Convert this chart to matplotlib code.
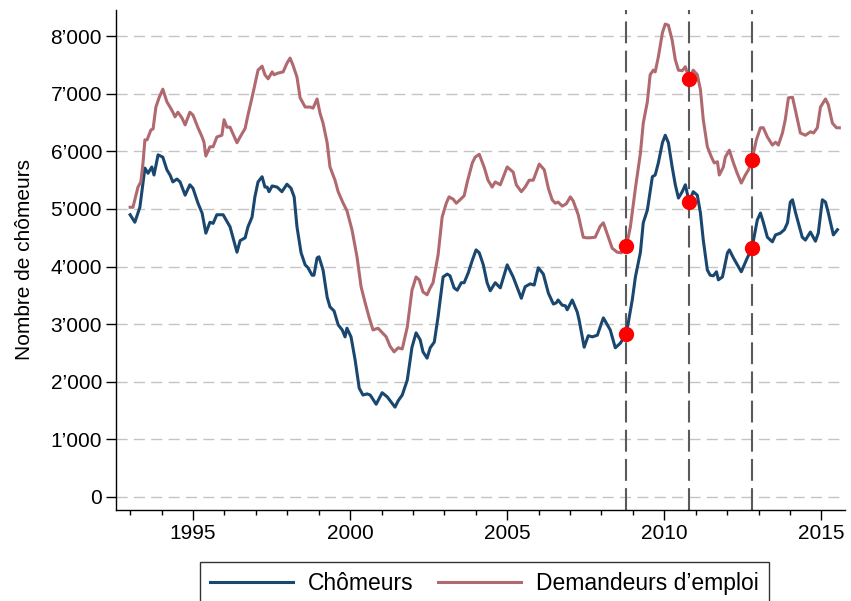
import matplotlib
matplotlib.use("Agg")
import matplotlib.pyplot as plt
from matplotlib.ticker import FuncFormatter, MultipleLocator

plt.rcParams['font.family'] = ['Liberation Sans', 'DejaVu Sans']

# Chômeurs (monthly-ish readings, decimal years, thousands)
chom_t = [1993.00, 1993.15, 1993.31, 1993.47, 1993.57, 1993.69, 1993.76, 1993.89, 1994.04, 1994.17,
          1994.27, 1994.36, 1994.49, 1994.59, 1994.75, 1994.90, 1995.00, 1995.16, 1995.29, 1995.41,
          1995.54, 1995.64, 1995.76, 1995.96, 1996.18, 1996.27, 1996.40, 1996.50, 1996.66, 1996.75,
          1996.88, 1996.97, 1997.07, 1997.20, 1997.29, 1997.36, 1997.42, 1997.52, 1997.68, 1997.83,
          1997.99, 1998.12, 1998.22, 1998.31, 1998.44, 1998.57, 1998.66, 1998.79, 1998.85, 1998.95,
          1999.01, 1999.14, 1999.27, 1999.36, 1999.49, 1999.62, 1999.75, 1999.84, 1999.90, 2000.03,
          2000.16, 2000.29, 2000.41, 2000.54, 2000.64, 2000.83, 2001.02, 2001.18, 2001.43, 2001.53,
          2001.66, 2001.82, 2001.97, 2002.10, 2002.23, 2002.32, 2002.45, 2002.55, 2002.68, 2002.80,
          2002.96, 2003.09, 2003.18, 2003.31, 2003.41, 2003.54, 2003.63, 2003.76, 2003.89, 2004.01,
          2004.11, 2004.24, 2004.36, 2004.46, 2004.62, 2004.78, 2005.00, 2005.19, 2005.45, 2005.57,
          2005.73, 2005.86, 2005.99, 2006.15, 2006.31, 2006.47, 2006.56, 2006.62, 2006.75, 2006.85,
          2006.91, 2007.07, 2007.23, 2007.29, 2007.45, 2007.58, 2007.71, 2007.87, 2008.06, 2008.28,
          2008.44, 2008.60, 2008.79, 2008.98, 2009.08, 2009.24, 2009.33, 2009.46, 2009.62, 2009.71,
          2009.81, 2009.94, 2010.03, 2010.13, 2010.25, 2010.35, 2010.45, 2010.57, 2010.67, 2010.79,
          2010.92, 2011.05, 2011.15, 2011.24, 2011.37, 2011.46, 2011.56, 2011.66, 2011.72, 2011.85,
          2012.01, 2012.07, 2012.20, 2012.45, 2012.64, 2012.79, 2012.96, 2013.06, 2013.15, 2013.28,
          2013.44, 2013.54, 2013.69, 2013.82, 2013.92, 2014.01, 2014.08, 2014.17, 2014.39, 2014.49,
          2014.65, 2014.81, 2014.90, 2015.03, 2015.13, 2015.22, 2015.38, 2015.51]
chom_v = [4.90, 4.77, 5.03, 5.71, 5.62, 5.73, 5.59, 5.94, 5.90, 5.68,
          5.59, 5.47, 5.52, 5.47, 5.24, 5.42, 5.36, 5.10, 4.93, 4.58,
          4.77, 4.75, 4.90, 4.90, 4.69, 4.51, 4.25, 4.45, 4.50, 4.69,
          4.86, 5.21, 5.47, 5.56, 5.38, 5.38, 5.30, 5.40, 5.38, 5.30,
          5.43, 5.36, 5.21, 4.69, 4.24, 4.03, 3.98, 3.85, 3.85, 4.15,
          4.17, 3.94, 3.47, 3.30, 3.23, 2.99, 2.90, 2.78, 2.93, 2.78,
          2.38, 1.89, 1.77, 1.79, 1.77, 1.61, 1.81, 1.74, 1.56, 1.67,
          1.77, 2.03, 2.60, 2.85, 2.73, 2.52, 2.41, 2.59, 2.69, 3.13,
          3.82, 3.87, 3.84, 3.63, 3.59, 3.72, 3.72, 3.89, 4.11, 4.29,
          4.24, 4.03, 3.72, 3.58, 3.72, 3.63, 4.03, 3.82, 3.45, 3.65,
          3.70, 3.68, 3.98, 3.87, 3.54, 3.35, 3.37, 3.42, 3.33, 3.32,
          3.25, 3.42, 3.21, 3.07, 2.60, 2.80, 2.78, 2.81, 3.11, 2.90,
          2.59, 2.67, 2.83, 3.42, 3.82, 4.25, 4.76, 4.98, 5.56, 5.59,
          5.80, 6.15, 6.28, 6.15, 5.73, 5.42, 5.19, 5.30, 5.42, 5.12,
          5.30, 5.24, 4.93, 4.46, 3.94, 3.85, 3.84, 3.91, 3.77, 3.82,
          4.24, 4.29, 4.15, 3.91, 4.15, 4.32, 4.81, 4.93, 4.77, 4.51,
          4.43, 4.55, 4.58, 4.64, 4.76, 5.12, 5.16, 4.95, 4.51, 4.46,
          4.60, 4.44, 4.58, 5.16, 5.12, 4.93, 4.55, 4.64]

# Demandeurs d'emploi
dem_t = [1993.00, 1993.09, 1993.15, 1993.25, 1993.34, 1993.41, 1993.47, 1993.54, 1993.66, 1993.73,
         1993.82, 1993.92, 1994.04, 1994.17, 1994.27, 1994.36, 1994.43, 1994.52, 1994.65, 1994.75,
         1994.90, 1995.00, 1995.16, 1995.29, 1995.35, 1995.41, 1995.54, 1995.64, 1995.76, 1995.92,
         1995.99, 1996.08, 1996.18, 1996.40, 1996.50, 1996.66, 1996.75, 1996.91, 1997.07, 1997.20,
         1997.29, 1997.39, 1997.52, 1997.58, 1997.71, 1997.87, 1997.99, 1998.09, 1998.18, 1998.31,
         1998.41, 1998.57, 1998.73, 1998.82, 1998.95, 1999.04, 1999.14, 1999.27, 1999.36, 1999.52,
         1999.62, 1999.78, 1999.90, 2000.06, 2000.22, 2000.35, 2000.48, 2000.61, 2000.73, 2000.89,
         2001.15, 2001.27, 2001.40, 2001.53, 2001.66, 2001.82, 2001.97, 2002.10, 2002.20, 2002.32,
         2002.45, 2002.55, 2002.64, 2002.80, 2002.93, 2003.06, 2003.15, 2003.28, 2003.38, 2003.50,
         2003.63, 2003.73, 2003.89, 2003.98, 2004.11, 2004.27, 2004.39, 2004.52, 2004.62, 2004.78,
         2005.00, 2005.19, 2005.29, 2005.45, 2005.57, 2005.70, 2005.83, 2006.02, 2006.18, 2006.31,
         2006.43, 2006.53, 2006.62, 2006.75, 2006.88, 2007.01, 2007.10, 2007.26, 2007.42, 2007.52,
         2007.64, 2007.80, 2007.96, 2008.06, 2008.22, 2008.34, 2008.50, 2008.63, 2008.79, 2008.92,
         2009.08, 2009.24, 2009.33, 2009.46, 2009.55, 2009.65, 2009.71, 2009.81, 2009.94, 2010.03,
         2010.13, 2010.25, 2010.35, 2010.45, 2010.57, 2010.67, 2010.79, 2010.92, 2011.05, 2011.15,
         2011.24, 2011.37, 2011.50, 2011.59, 2011.69, 2011.75, 2011.88, 2011.94, 2012.07, 2012.20,
         2012.32, 2012.45, 2012.58, 2012.68, 2012.79, 2012.93, 2013.06, 2013.15, 2013.28, 2013.44,
         2013.54, 2013.63, 2013.76, 2013.85, 2013.95, 2014.08, 2014.17, 2014.33, 2014.49, 2014.65,
         2014.75, 2014.87, 2014.97, 2015.13, 2015.22, 2015.35, 2015.48, 2015.57]
dem_v = [5.03, 5.03, 5.16, 5.38, 5.47, 5.80, 6.20, 6.20, 6.37, 6.39,
         6.77, 6.93, 7.08, 6.86, 6.77, 6.68, 6.60, 6.68, 6.58, 6.46,
         6.68, 6.63, 6.41, 6.25, 6.16, 5.92, 6.08, 6.08, 6.25, 6.28,
         6.55, 6.42, 6.42, 6.15, 6.25, 6.40, 6.63, 7.01, 7.41, 7.48,
         7.33, 7.26, 7.38, 7.33, 7.36, 7.38, 7.53, 7.62, 7.50, 7.29,
         6.93, 6.77, 6.77, 6.75, 6.91, 6.67, 6.49, 6.15, 5.73, 5.50,
         5.30, 5.10, 4.97, 4.64, 4.17, 3.65, 3.37, 3.11, 2.90, 2.93,
         2.78, 2.62, 2.52, 2.59, 2.57, 2.95, 3.59, 3.82, 3.77, 3.56,
         3.51, 3.63, 3.72, 4.20, 4.86, 5.10, 5.21, 5.17, 5.10, 5.16,
         5.23, 5.47, 5.80, 5.90, 5.95, 5.72, 5.50, 5.38, 5.47, 5.42,
         5.73, 5.64, 5.42, 5.30, 5.38, 5.50, 5.50, 5.78, 5.68, 5.36,
         5.16, 5.10, 5.12, 5.05, 5.09, 5.21, 5.14, 4.90, 4.51, 4.50,
         4.50, 4.51, 4.70, 4.76, 4.51, 4.32, 4.25, 4.24, 4.34, 4.69,
         5.36, 5.97, 6.49, 6.86, 7.33, 7.41, 7.38, 7.64, 8.06, 8.21,
         8.19, 7.93, 7.59, 7.41, 7.40, 7.47, 7.26, 7.41, 7.33, 7.07,
         6.55, 6.08, 5.90, 5.80, 5.82, 5.59, 5.73, 5.90, 6.02, 5.80,
         5.62, 5.45, 5.59, 5.68, 5.85, 6.20, 6.41, 6.41, 6.25, 6.11,
         6.16, 6.11, 6.32, 6.55, 6.93, 6.94, 6.72, 6.32, 6.28, 6.34,
         6.32, 6.41, 6.77, 6.91, 6.81, 6.49, 6.41, 6.41]

# marked dates and values on each series
event_t = [2008.79, 2010.79, 2012.79]
event_chom = [2.83, 5.12, 4.32]
event_dem = [4.36, 7.26, 5.85]

navy = "#1a476f"
maroon = "#b0696f"

fig = plt.figure(figsize=(8.51, 6.01), dpi=100)
ax = fig.add_axes([0.1363, 0.1514, 0.857, 0.832])

ax.plot(chom_t, [v * 1000 for v in chom_v], color=navy, lw=2.2, label="Chômeurs", zorder=3)
ax.plot(dem_t, [v * 1000 for v in dem_v], color=maroon, lw=2.2, label="Demandeurs d’emploi", zorder=3)

for t in event_t:
    ax.axvline(t, color="#5a5a5a", lw=1.5, linestyle=(0, (10.5, 3.5)), zorder=2)
ax.plot(event_t, [v * 1000 for v in event_chom], "o", color="red", ms=10, zorder=4)
ax.plot(event_t, [v * 1000 for v in event_dem], "o", color="red", ms=10, zorder=4)

ax.set_xlim(1992.55, 2015.76)
ax.set_ylim(-226, 8455)
ax.yaxis.set_major_locator(MultipleLocator(1000))
ax.yaxis.set_major_formatter(FuncFormatter(lambda v, p: f"{int(round(v)):,}".replace(",", "’")))
ax.xaxis.set_major_locator(MultipleLocator(5))
ax.xaxis.set_minor_locator(MultipleLocator(1))
ax.yaxis.grid(True, color="#c4c4c4", lw=1.0, linestyle=(0, (8, 4.5)), zorder=1)
ax.set_axisbelow(True)

for s in ["top", "right"]:
    ax.spines[s].set_visible(False)
for s in ["left", "bottom"]:
    ax.spines[s].set_linewidth(1.0)
ax.tick_params(axis="both", which="major", length=7, width=1.0, labelsize=15, pad=3)
ax.tick_params(axis="x", which="minor", length=3.6, width=1.0)
ax.set_ylabel("Nombre de chômeurs", fontsize=15, labelpad=12)

leg = fig.legend(loc="upper center", bbox_to_anchor=(0.569, 0.0649), ncol=2, fontsize=16.5,
                 frameon=True, fancybox=False, edgecolor="black", handlelength=3.6,
                 handletextpad=0.65, columnspacing=1.1, borderpad=0.45, borderaxespad=0)
leg.get_frame().set_linewidth(1.0)

fig.savefig("out.png", dpi=100)
